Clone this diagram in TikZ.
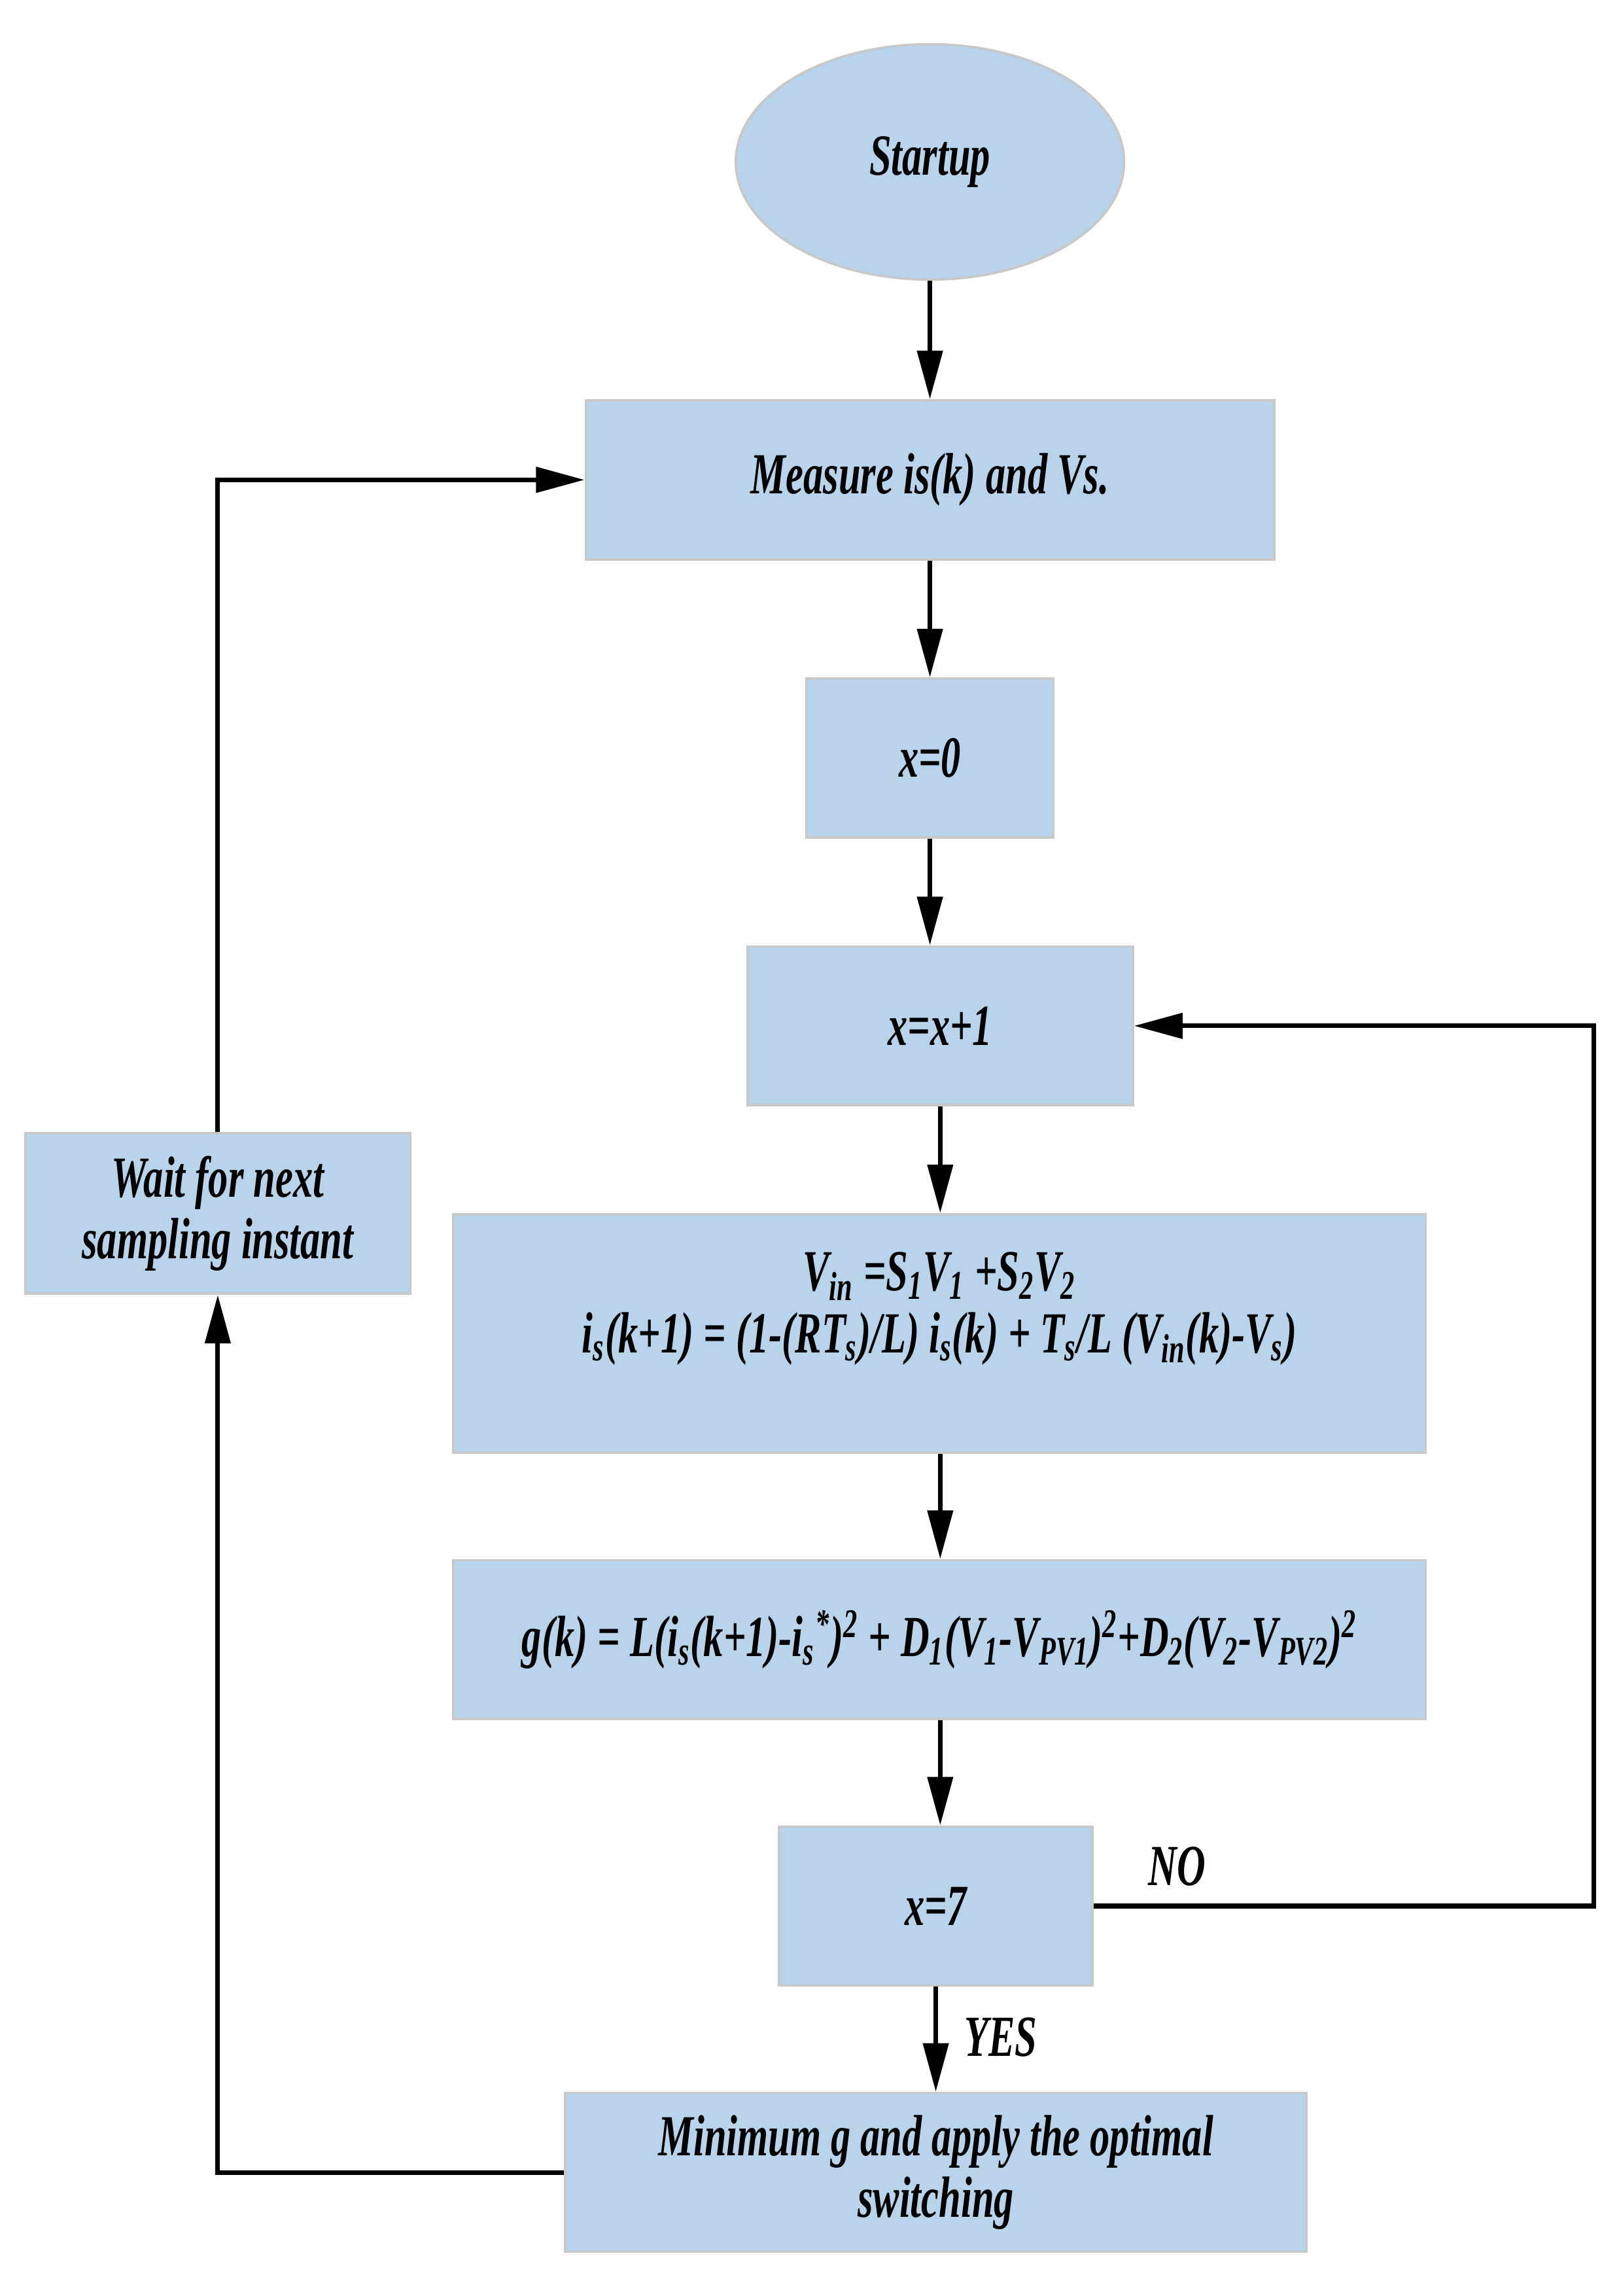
\documentclass[tikz,border=0pt]{standalone}
\usepackage{fontspec}
\setmainfont{Liberation Serif}[FakeStretch=0.68]
\usetikzlibrary{arrows.meta,shapes.geometric}
\definecolor{boxblue}{HTML}{B8D3EA}
\definecolor{boxline}{HTML}{C8C8C8}
\newcommand{\sbx}[1]{\textsubscript{#1}}
\newcommand{\spx}[1]{\textsuperscript{#1}}
\begin{document}
\begin{tikzpicture}[x=0.02cm,y=-0.02cm]
\tikzset{blk/.style={rectangle,draw=boxline,line width=0.9pt,fill=boxblue,inner sep=0pt,align=center,
    font=\fontsize{22.5}{24}\selectfont\bfseries\itshape},
  arr/.style={line width=1.8pt,-{Triangle[length=0.66cm,width=0.34cm]}},
  lbl/.style={font=\fontsize{22.5}{24}\selectfont\bfseries\itshape}}
\useasboundingbox (0,0) rectangle (1100,1560);
\node (start) at (632,110) [blk,ellipse,minimum width=5.28cm,minimum height=3.2cm] {Startup};
\node (measure) at (632,326) [blk,minimum width=9.36cm,minimum height=2.16cm] {Measure is(k) and Vs.};
\node (x0) at (632,515) [blk,minimum width=3.36cm,minimum height=2.16cm] {x=0};
\node (inc) at (639,697) [blk,minimum width=5.24cm,minimum height=2.16cm] {x=x+1};
\node (model) at (638.5,906) [blk,minimum width=13.22cm,minimum height=3.24cm]
  {V\sbx{in} =S\sbx{1}V\sbx{1} +S\sbx{2}V\sbx{2}\\
   i\sbx{s}(k+1) = (1-(RT\sbx{s})/L) i\sbx{s}(k) + T\sbx{s}/L (V\sbx{in}(k)-V\sbx{s})\\ ~};
\node (cost) at (638.5,1114) [blk,minimum width=13.22cm,minimum height=2.16cm]
  {g(k) = L(i\sbx{s}(k+1)-i\sbx{s}\spx{*})\spx{2} + D\sbx{1}(V\sbx{1}-V\sbx{PV1})\spx{2}+D\sbx{2}(V\sbx{2}-V\sbx{PV2})\spx{2}};
\node (chk) at (636,1295) [blk,minimum width=4.26cm,minimum height=2.16cm] {x=7};
\node (minim) at (636,1476) [blk,minimum width=10.08cm,minimum height=2.16cm] {Minimum g and apply the optimal\\ switching};
\node (wait) at (148,824.5) [blk,minimum width=5.24cm,minimum height=2.18cm] {Wait for next\\ sampling instant};
\node (yes) at (680,1384) [lbl] {YES};
\node (no) at (800,1268) [lbl] {NO};
\coordinate (noright) at (1083,1295);
\draw[arr] (start) -- (measure);
\draw[arr] (measure) -- (measure.south |- x0.north);
\draw[arr] (x0) -- (x0.south |- inc.north);
\draw[arr] (inc) -- (inc.south |- model.north);
\draw[arr] (model.south -| inc) -- (inc |- cost.north);
\draw[arr] (cost.south -| inc) -- (inc |- chk.north);
\draw[arr] (chk) -- (chk.south |- minim.north);
\draw[arr] (chk.east) -- (noright) |- (inc.east);
\draw[arr] (minim.west) -| (wait.south);
\draw[arr] (wait.north) |- (measure.west);
\end{tikzpicture}
\end{document}
